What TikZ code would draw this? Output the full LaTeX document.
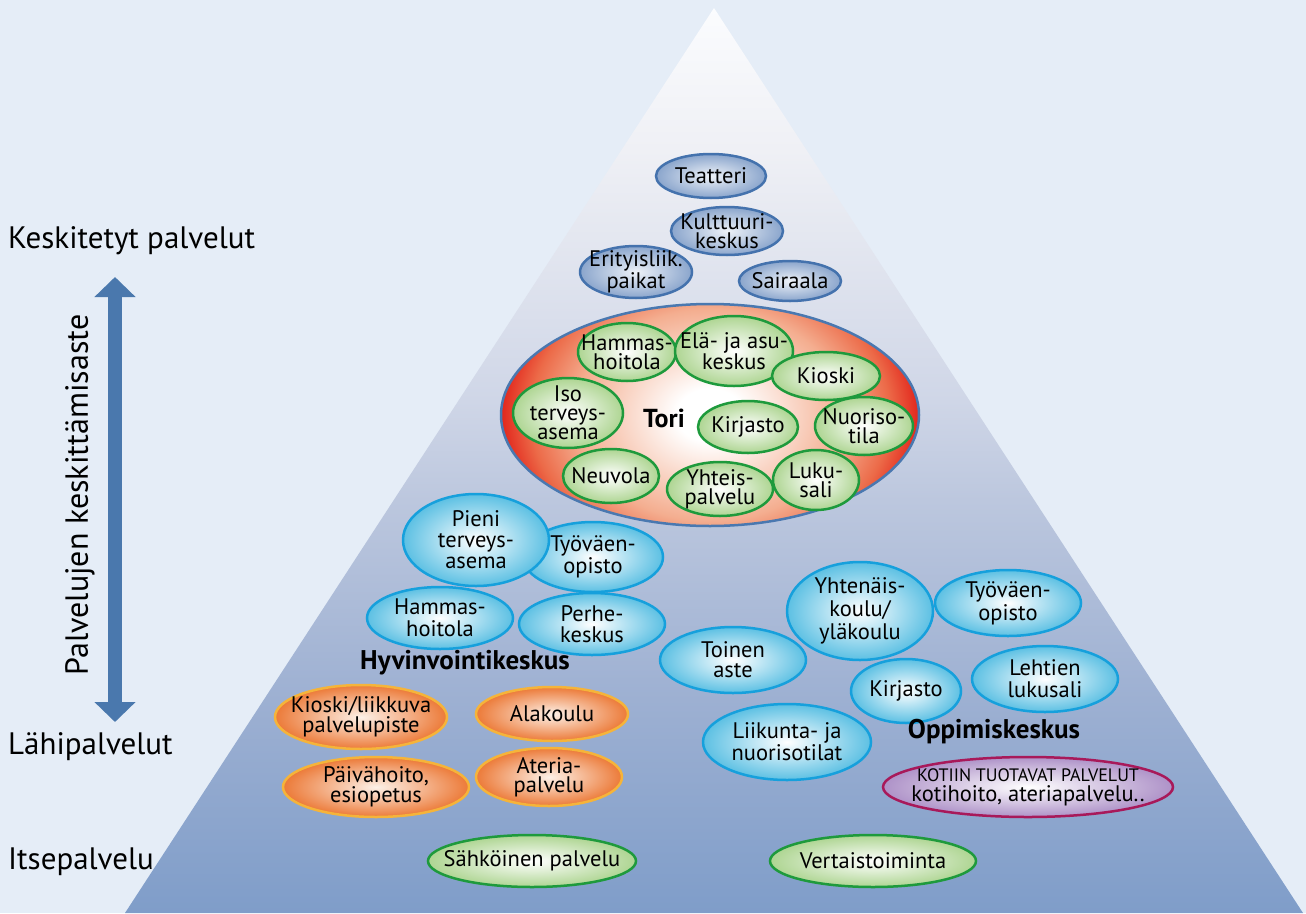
\documentclass[tikz,border=0pt]{standalone}
\usepackage{fontspec}
\setmainfont{PT Sans}
\usetikzlibrary{shapes.geometric,arrows.meta}

\definecolor{bgc}{HTML}{E5EDF7}
\definecolor{pytop}{HTML}{FBFCFE}
\definecolor{pyA}{HTML}{EFF0F5}
\definecolor{pyB}{HTML}{CFD6E7}
\definecolor{pyC}{HTML}{BCC7DE}
\definecolor{pyD}{HTML}{9DB0D2}
\definecolor{pybot}{HTML}{7F9DC9}
\definecolor{arrowc}{HTML}{4A78AD}
\definecolor{topdraw}{HTML}{4472AD}
\definecolor{topin}{HTML}{EEF2F8}
\definecolor{topout}{HTML}{8AA5CC}
\definecolor{toridraw}{HTML}{4A78B0}
\definecolor{torisalm}{HTML}{F4AE90}
\definecolor{torior}{HTML}{EC6A48}
\definecolor{torired}{HTML}{E2261C}
\definecolor{grndraw}{HTML}{1E9A3C}
\definecolor{grnout}{HTML}{AED592}
\definecolor{cyndraw}{HTML}{16A0DC}
\definecolor{cynout}{HTML}{5CC0E3}
\definecolor{orgdraw}{HTML}{F5B43A}
\definecolor{orgin}{HTML}{FDF1E8}
\definecolor{orgout}{HTML}{EC7A38}
\definecolor{purdraw}{HTML}{A8195A}
\definecolor{purout}{HTML}{AE92C8}

% pyramid: light at the apex, steel blue at the base
\pgfdeclareverticalshading{pyramid}{100bp}{%
  color(0bp)=(pybot); color(25bp)=(pybot); color(36.8bp)=(pyD);
  color(47.8bp)=(pyC); color(53.3bp)=(pyB); color(67.2bp)=(pyA);
  color(75bp)=(pytop); color(100bp)=(pytop)}
% market square: white core, salmon body, red rim
\pgfdeclareradialshading{torishade}{\pgfpoint{0bp}{0bp}}{%
  color(0bp)=(white); color(4bp)=(white); color(16bp)=(torisalm);
  color(21.5bp)=(torior); color(25bp)=(torired); color(50bp)=(torired)}

\tikzset{
  x=1pt, y=-1pt,
  bubble/.style={ellipse, inner sep=0pt, line width=2.5pt, shading=radial},
  topb/.style={bubble, draw=topdraw, inner color=topin, outer color=topout},
  grn/.style={bubble, draw=grndraw, inner color=white, outer color=grnout},
  cyn/.style={bubble, draw=cyndraw, inner color=white, outer color=cynout},
  org/.style={bubble, draw=orgdraw, inner color=orgin, outer color=orgout},
  pur/.style={bubble, draw=purdraw, inner color=white, outer color=purout},
  txt/.style={align=center, font=\fontsize{22.5}{19}\selectfont, inner sep=0pt, text=black},
  lead/.style={font=\fontsize{22.5}{#1}\selectfont},
  side/.style={font=\fontsize{31}{34}\selectfont, anchor=west, inner sep=0pt, text=black},
  hub/.style={font=\fontsize{27}{30}\selectfont\bfseries, inner sep=0pt, text=black},
  axisarrow/.style={draw=arrowc, line width=14pt,
    {Triangle[width=40pt,length=20pt]}-{Triangle[width=40pt,length=20pt]}},
}

% \bub[text options]{name}{style}{x}{y}{x radius}{y radius}{text}
\newcommand\bub[8][]{%
  \node[#3, minimum width={2*#6pt}, minimum height={2*#7pt}] (#2) at (#4,#5) {};
  \node[txt,#1] (#2-t) at (#2.center) {#8};}

\begin{document}
\begin{tikzpicture}
\useasboundingbox (0,0) rectangle (1306,913);
\fill[bgc] (0,0) rectangle (1306,913);

% pyramid
\shade[shading=pyramid] (714,8) -- (125,913) -- (1303,913) -- cycle;

% left axis
\node[side] (kesk) at (8,241) {Keskitetyt palvelut};
\node[side] (lahi) at (8,747) {Lähipalvelut};
\node[side] (itse) at (8,862) {Itsepalvelu};
\node[side, font=\fontsize{32}{34}\selectfont, anchor=center, rotate=90] (aste) at (80,495) {Palvelujen keskittämisaste};
\coordinate (atop) at (115,277);
\coordinate (abot) at (115,722);
\draw[axisarrow] (atop) -- (abot);

% centralised services
\bub{teatteri}{topb}{711}{176}{55}{22}{Teatteri}
\bub{kulttuuri}{topb}{727}{231}{56}{24}{Kulttuuri-\\keskus}
\bub{erity}{topb}{636}{272}{56}{26}{Erityisliik.\\paikat}
\bub{sairaala}{topb}{790}{281}{51}{20}{Sairaala}

% market square
\node[ellipse, draw=toridraw, line width=2.5pt, minimum width=418pt, minimum height=222pt,
  path picture={\shade[shading=torishade] (path picture bounding box.center)
    ellipse [x radius=209pt, y radius=165pt];}] (tori) at (710,415) {};
\node[hub, font=\fontsize{26}{28}\selectfont\bfseries] (tori-t) at (664,418) {Tori};
\bub{hammasT}{grn}{627}{352}{49}{29}{Hammas-\\hoitola}
\bub{ela}{grn}{734}{351}{59}{35}{Elä- ja asu-\\keskus}
\bub{kioskiT}{grn}{826}{376}{54}{24}{Kioski}
\bub{iso}{grn}{568}{413}{55}{35}{Iso\\terveys-\\asema}
\bub{kirjT}{grn}{748}{427}{50}{26}{Kirjasto}
\bub{nuoriso}{grn}{864}{426}{49}{29}{Nuoriso-\\tila}
\bub{neuvola}{grn}{611}{476}{48}{27}{Neuvola}
\bub{yhteis}{grn}{720}{489}{53}{27}{Yhteis-\\palvelu}
\bub{luku}{grn}{816}{480}{43}{30}{Luku-\\sali}

% wellbeing centre
\bub[lead=22]{tyov1}{cyn}{593}{557}{70}{35}{Työväen-\\opisto}
\bub[lead=21]{pieni}{cyn}{476}{540}{73}{46}{Pieni\\terveys-\\asema}
\bub[lead=21.5]{hammasH}{cyn}{440}{618}{73}{31}{Hammas-\\hoitola}
\bub[lead=21]{perhe}{cyn}{592}{624}{73}{31}{Perhe-\\keskus}
\node[hub] (hyv) at (465,663) {Hyvinvointikeskus};
\bub{kioskiH}{org}{361}{717}{86}{32}{Kioski/liikkuva\\palvelupiste}
\bub{alakoulu}{org}{552}{714}{76}{27}{Alakoulu}
\bub{paiva}{org}{376}{787}{93}{30}{Päivähoito,\\esiopetus}
\bub{ateria}{org}{549}{777}{73}{29}{Ateria-\\palvelu}

% learning centre
\bub[lead=23]{yht}{cyn}{860}{611}{73}{49}{Yhtenäis-\\koulu/\\yläkoulu}
\bub[lead=23]{tyov2}{cyn}{1008}{603}{73}{33}{Työväen-\\opisto}
\bub[lead=20]{toinen}{cyn}{733}{660}{73}{33}{Toinen\\aste}
\bub{kirjO}{cyn}{906}{691}{55}{32}{Kirjasto}
\bub[lead=22]{lehti}{cyn}{1045}{679}{73}{33}{Lehtien\\lukusali}
\bub[lead=22]{liik}{cyn}{787}{742}{84}{38}{Liikunta- ja\\nuorisotilat}
\node[hub] (opp) at (994,732) {Oppimiskeskus};
\bub[lead=20]{kotiin}{pur}{1028}{787}{145}{30}{{\fontsize{18}{18}\selectfont KOTIIN TUOTAVAT PALVELUT}\\kotihoito, ateriapalvelu..}

% self-service
\bub{sahko}{grn}{532}{861}{104}{26}{Sähköinen palvelu}
\bub{vert}{grn}{873}{861}{103}{26}{Vertaistoiminta}
\end{tikzpicture}
\end{document}
